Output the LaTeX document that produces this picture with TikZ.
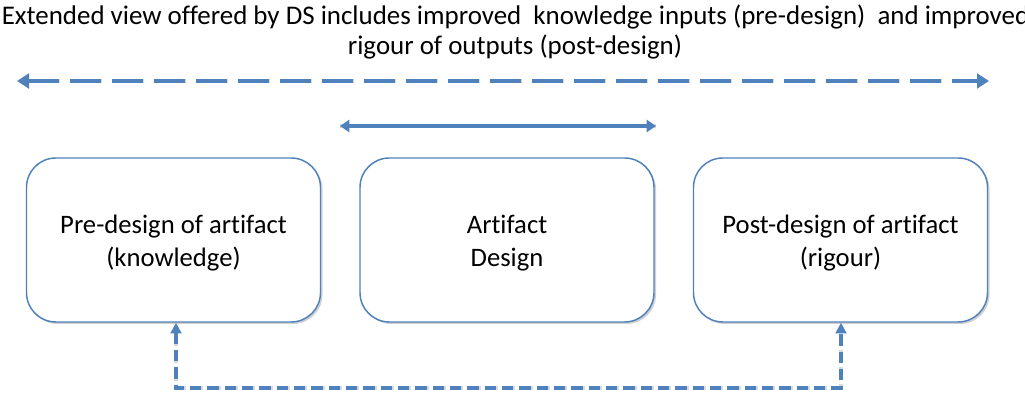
\documentclass[tikz,border=0pt]{standalone}
\usepackage{fontspec}
\setmainfont[Ligatures=CommonOff]{Carlito}
\usetikzlibrary{arrows.meta,shadows,calc}
\definecolor{obl}{HTML}{4F81BD}
\tikzset{
  px/.style={x=0.75pt,y=-0.75pt},
  box/.style={draw=obl,line width=1.1pt,rounded corners=22pt,minimum width=220.5pt,minimum height=123pt,fill=white,
    drop shadow={shadow xshift=1.5pt,shadow yshift=-1.5pt,opacity=0.18,fill=black}},
  boxtext/.style={align=center,font=\fontsize{20}{24.75}\selectfont,inner sep=0pt},
  bigdash/.style={draw=obl,line width=3.2pt,dash pattern=on 23pt off 8.5pt,{Triangle[length=9pt,width=11pt]}-{Triangle[length=9pt,width=11pt]}},
  smalldash/.style={draw=obl,line width=3pt,dash pattern=on 8.5pt off 4.5pt,{Triangle[length=8pt,width=8pt]}-{Triangle[length=8pt,width=8pt]}},
  solidarr/.style={draw=obl,line width=2.4pt,{Triangle[length=7pt,width=9pt]}-{Triangle[length=7pt,width=9pt]}},
  shad/.style={draw=black,opacity=0.15,line width=3pt},
  ttl/.style={font=\fontsize{20.2}{24}\selectfont,inner sep=0pt}
}
\begin{document}
\begin{tikzpicture}[px]
\useasboundingbox (0,0) rectangle (1025,398);
\clip (0,0) rectangle (1025,398);
\node[ttl,anchor=west] (t1) at (1.5,17) {Extended view offered by DS includes improved\ \ knowledge inputs (pre-design)\ \ and improved};
\node[ttl] (t2) at (515,47) {rigour of outputs (post-design)};
% arrows top
\coordinate (ta) at (17,81);
\coordinate (tb) at (989,81);
\draw[shad,dash pattern=on 23pt off 8.5pt,yshift=-3pt,xshift=2pt] ($(ta)+(12,0)$) -- ($(tb)-(12,0)$);
\draw[bigdash] (ta) -- (tb);
\coordinate (ma) at (340,126);
\coordinate (mb) at (656,126);
\draw[shad,line width=2.4pt,yshift=-2.5pt,xshift=1.5pt] (ma) -- (mb);
\draw[solidarr] (ma) -- (mb);
% boxes
\node[box] (b1) at (173.5,240) {};
\node[box] (b2) at (507,240) {};
\node[box] (b3) at (840.5,240) {};
\node[boxtext] (b1t) at (173.5,243) {Pre-design of artifact\\(knowledge)};
\node[boxtext] (b2t) at (507,243) {Artifact\\Design};
\node[boxtext] (b3t) at (840.5,243) {Post-design of artifact\\(rigour)};
% bottom feedback
\coordinate (c1) at (176,388);
\coordinate (c2) at (841,388);
\draw[shad,dash pattern=on 8.5pt off 4.5pt,yshift=-2.5pt,xshift=2pt] ($(b1.south -| c1)+(0,12)$) -- (c1) -- (c2) -- ($(b3.south -| c2)+(0,12)$);
\draw[smalldash] (b1.south -| c1) -- (c1) -- (c2) -- (b3.south -| c2);
\end{tikzpicture}
\end{document}
